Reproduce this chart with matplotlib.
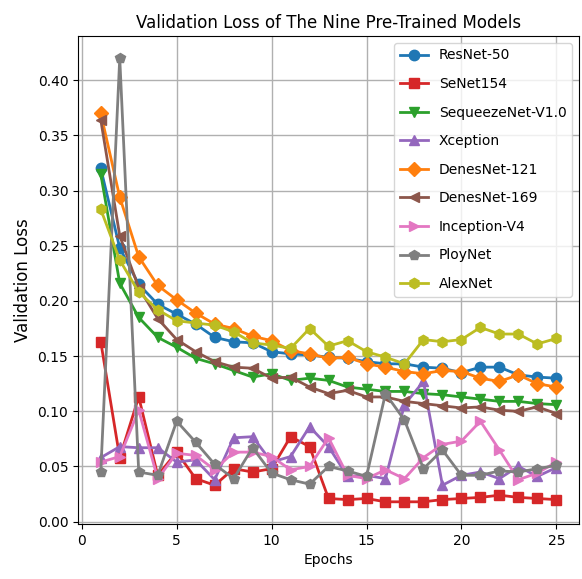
import numpy as np
import matplotlib
matplotlib.use("Agg")
import matplotlib.pyplot as plt

# Dane
epochs = list(range(1, 26))

resnet50 = [0.320, 0.248, 0.215, 0.197, 0.188, 0.179, 0.167, 0.163, 0.162, 0.154,
            0.152, 0.151, 0.149, 0.148, 0.145, 0.143, 0.143, 0.140, 0.139, 0.135,
            0.140, 0.140, 0.133, 0.131, 0.130]
senet154 = [0.163, 0.058, 0.113, 0.042, 0.063, 0.039, 0.033, 0.048, 0.045, 0.048,
            0.077, 0.068, 0.021, 0.020, 0.021, 0.018, 0.018, 0.018, 0.020, 0.021,
            0.022, 0.024, 0.022, 0.021, 0.020]
squeezenet = [0.315, 0.216, 0.185, 0.167, 0.158, 0.148, 0.143, 0.137, 0.131, 0.134,
              0.128, 0.130, 0.128, 0.122, 0.120, 0.118, 0.118, 0.116, 0.115, 0.113,
              0.111, 0.109, 0.109, 0.107, 0.106]
xception = [0.058, 0.068, 0.067, 0.067, 0.054, 0.056, 0.038, 0.076, 0.077, 0.054,
            0.059, 0.086, 0.068, 0.041, 0.042, 0.039, 0.106, 0.127, 0.033, 0.042,
            0.045, 0.039, 0.050, 0.041, 0.049]
densenet121 = [0.370, 0.294, 0.240, 0.214, 0.201, 0.189, 0.179, 0.175, 0.168, 0.164,
               0.155, 0.152, 0.148, 0.149, 0.143, 0.140, 0.136, 0.134, 0.137, 0.136,
               0.130, 0.127, 0.133, 0.125, 0.122]
densenet169 = [0.364, 0.259, 0.212, 0.184, 0.165, 0.154, 0.145, 0.140, 0.139, 0.130,
               0.131, 0.122, 0.116, 0.119, 0.113, 0.113, 0.109, 0.107, 0.105, 0.103,
               0.104, 0.101, 0.100, 0.104, 0.098]
inception_v4 = [0.054, 0.059, 0.101, 0.039, 0.062, 0.060, 0.047, 0.063, 0.063, 0.059,
                0.047, 0.050, 0.076, 0.042, 0.039, 0.047, 0.039, 0.058, 0.070, 0.073,
                0.091, 0.065, 0.038, 0.044, 0.054]
ploynet = [0.045, 0.420, 0.045, 0.042, 0.091, 0.072, 0.052, 0.039, 0.067, 0.044,
           0.038, 0.034, 0.050, 0.046, 0.041, 0.116, 0.092, 0.048, 0.065, 0.042,
           0.042, 0.046, 0.045, 0.048, 0.051]
alexnet = [0.283, 0.237, 0.208, 0.192, 0.182, 0.180, 0.178, 0.172, 0.162, 0.160,
           0.157, 0.175, 0.159, 0.164, 0.154, 0.149, 0.143, 0.165, 0.163, 0.165,
           0.176, 0.170, 0.170, 0.161, 0.166]

names = ["ResNet-50", "SeNet154", "SequeezeNet-V1.0", "Xception", "DenesNet-121",
         "DenesNet-169", "Inception-V4", "PloyNet", "AlexNet"]
series = [resnet50, senet154, squeezenet, xception, densenet121,
          densenet169, inception_v4, ploynet, alexnet]
markers = ["o", "s", "v", "^", "D", "<", ">", "p", "h"]
colors = ["tab:blue", "tab:red", "tab:green", "tab:purple", "tab:orange",
          "tab:brown", "tab:pink", "tab:gray", "tab:olive"]

# Wykres
fig = plt.figure(figsize=(5.82, 5.79), dpi=100)
ax = fig.add_axes([0.134, 0.095, 0.861, 0.843])

for name, values, m, c in zip(names, series, markers, colors):
    ax.plot(epochs, values, marker=m, markersize=7.5, linewidth=2, color=c, label=name)

ax.set_title("Validation Loss of The Nine Pre-Trained Models", fontsize=12)
ax.set_xlabel("Epochs", fontsize=10)
ax.set_ylabel("Validation Loss", fontsize=12)
ax.grid(True, linewidth=1)
ax.legend(loc="upper right", fontsize=10, labelspacing=1.05)

fig.savefig("out.png", dpi=100)
